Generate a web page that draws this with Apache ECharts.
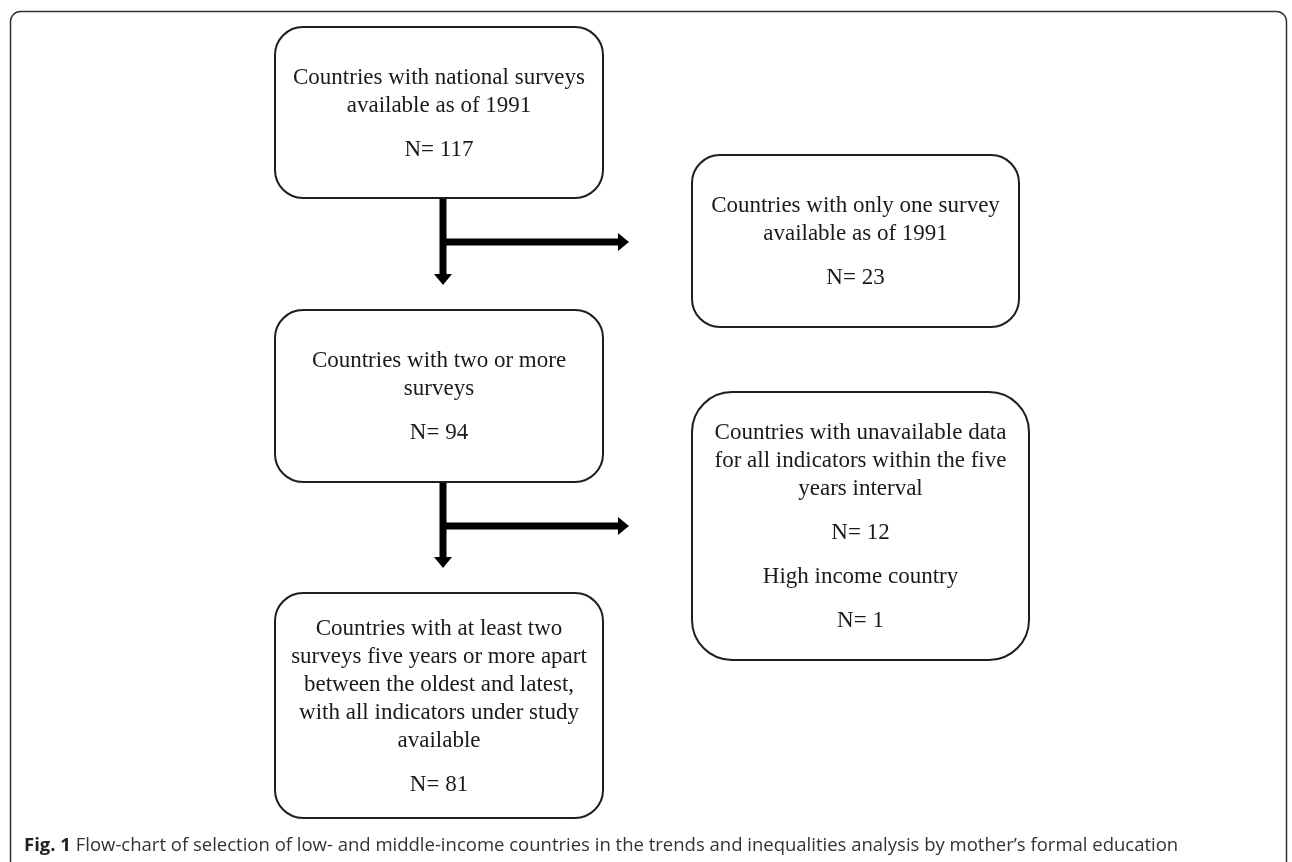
<!DOCTYPE html>
<html>
<head>
<meta charset="utf-8">
<script src="https://cdn.jsdelivr.net/npm/echarts@6/dist/echarts.min.js"></script>
<style>
  html, body { margin: 0; padding: 0; background: #fff; }
  #chart { width: 1292px; height: 862px; }
</style>
</head>
<body>
<div id="chart"></div>
<script>
// flow steps (main column) and their counts
const stepLabels = [
  'Countries with national surveys\navailable as of 1991',
  'Countries with two or more\nsurveys',
  'Countries with at least two\nsurveys five years or more apart\nbetween the oldest and latest,\nwith all indicators under study\navailable'
];
const stepCounts = [117, 94, 81];

// excluded groups between steps
const exclusionLabels = [
  ['Countries with only one survey\navailable as of 1991'],
  ['Countries with unavailable data\nfor all indicators within the five\nyears interval', 'High income country']
];
const exclusionCounts = [[23], [12, 1]];

const captionLead = 'Fig. 1';
const captionText = 'Flow-chart of selection of low- and middle-income countries in the trends and inequalities analysis by mother\u2019s formal education';

// layout (pixel space of the hidden axes)
const stepBoxes = [[275, 27, 603, 198], [275, 310, 603, 482], [275, 593, 603, 818]];
const exclusionBoxes = [[692, 155, 1019, 327], [692, 392, 1029, 660]];
const exclusionRadius = [28, 40];
const shaftX = 443;
const branchOffset = 44;
const headGap = 25;
const branchGap = 63;

const LINE_H = 28;
const PARA_GAP = 16;
const TEXT_FONT = '23px "Liberation Serif", "Times New Roman", serif';

function paragraphs(labels, counts) {
  const out = [];
  labels.forEach((t, k) => { out.push(t.split('\n')); out.push(['N= ' + counts[k]]); });
  return out;
}

const boxItems = [];
stepBoxes.forEach((b, i) => {
  boxItems.push({ value: b.concat([28]), paras: paragraphs([stepLabels[i]], [stepCounts[i]]) });
});
exclusionBoxes.forEach((b, i) => {
  boxItems.push({ value: b.concat([exclusionRadius[i]]), paras: paragraphs(exclusionLabels[i], exclusionCounts[i]) });
});

const arrowItems = exclusionBoxes.map((b, i) => {
  const from = stepBoxes[i], to = stepBoxes[i + 1];
  return [shaftX, from[3], to[1] - headGap, from[3] + branchOffset, b[0] - branchGap];
});

function renderBox(params, api) {
  const item = boxItems[params.dataIndex];
  const p0 = api.coord([api.value(0), api.value(1)]);
  const p1 = api.coord([api.value(2), api.value(3)]);
  const cx = (p0[0] + p1[0]) / 2, cy = (p0[1] + p1[1]) / 2;
  let nLines = 0;
  item.paras.forEach(p => nLines += p.length);
  const total = (nLines - 1) * LINE_H + (item.paras.length - 1) * PARA_GAP;
  let y = cy - total / 2 + 1;
  const children = [{
    type: 'rect',
    shape: { x: p0[0], y: p0[1], width: p1[0] - p0[0], height: p1[1] - p0[1], r: api.value(4) },
    style: { fill: '#fff', stroke: '#1e1e1e', lineWidth: 2 }
  }];
  item.paras.forEach((p, k) => {
    if (k > 0) y += PARA_GAP;
    p.forEach(line => {
      children.push({
        type: 'text',
        style: { text: line, x: cx, y: y, align: 'center', verticalAlign: 'middle', font: TEXT_FONT, fill: '#1a1a1a' }
      });
      y += LINE_H;
    });
  });
  return { type: 'group', children: children };
}

function renderArrow(params, api) {
  const a = api.coord([api.value(0), api.value(1)]);
  const b = api.coord([api.value(0), api.value(2)]);
  const br = api.coord([api.value(4), api.value(3)]);
  const w = 7, hl = 11, hw = 9;
  const style = { fill: '#000' };
  return {
    type: 'group',
    children: [
      { type: 'rect', shape: { x: a[0] - w / 2, y: a[1], width: w, height: b[1] - a[1] - hl }, style: style },
      { type: 'polygon', shape: { points: [[b[0] - hw, b[1] - hl], [b[0] + hw, b[1] - hl], [b[0], b[1]]] }, style: style },
      { type: 'rect', shape: { x: a[0], y: br[1] - w / 2, width: br[0] - a[0] - hl, height: w }, style: style },
      { type: 'polygon', shape: { points: [[br[0] - hl, br[1] - hw], [br[0] - hl, br[1] + hw], [br[0], br[1]]] }, style: style }
    ]
  };
}

const chart = echarts.init(document.getElementById('chart'));
chart.setOption({
  animation: false,
  backgroundColor: '#fff',
  grid: { left: 0, right: 0, top: 0, bottom: 0 },
  xAxis: { type: 'value', min: 0, max: 1292, show: false },
  yAxis: { type: 'value', min: 0, max: 862, inverse: true, show: false },
  graphic: [
    {
      type: 'rect', left: 8, top: 9,
      shape: { width: 1276, height: 880, r: 10 },
      style: { fill: 'none', stroke: '#333', lineWidth: 1.5 }
    },
    {
      type: 'text', left: 24, top: 836,
      style: {
        text: '{b|' + captionLead + '} ' + captionText,
        font: '18.5px "Open Sans", sans-serif',
        fill: '#333',
        rich: { b: { font: 'bold 18.5px "Open Sans", sans-serif', fill: '#222' } }
      }
    }
  ],
  series: [
    {
      type: 'custom', name: 'connectors',
      renderItem: renderArrow,
      data: arrowItems,
      silent: true
    },
    {
      type: 'custom', name: 'boxes',
      renderItem: renderBox,
      data: boxItems.map(d => d.value),
      silent: true
    }
  ]
});
</script>
</body>
</html>
